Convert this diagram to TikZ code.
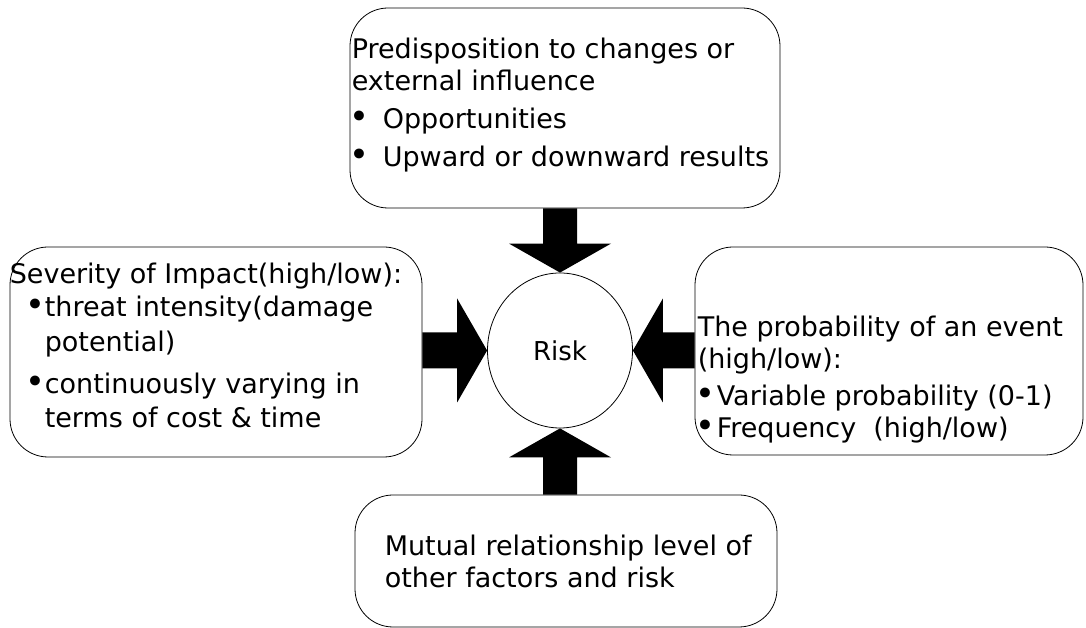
\documentclass[tikz,border=0pt]{standalone}
\usepackage{fontspec}
\setmainfont{DejaVu Sans}
\usetikzlibrary{shapes.geometric, positioning, calc}
\definecolor{mydark}{RGB}{0,0,0}
\tikzset{
  factor/.style={rectangle, draw=mydark, fill=white, rounded corners=38pt,
    line width=0.8pt, inner sep=0pt},
  factortext/.style={align=left, inner sep=0pt, text=mydark,
    font=\fontsize{27}{32}\selectfont},
  riskcirc/.style={ellipse, draw=mydark, fill=white, line width=0.8pt,
    minimum width=145pt, minimum height=155pt, inner sep=0pt,
    font=\fontsize{26}{32}\selectfont},
  bigarrow/.style={fill=mydark, draw=none}
}
% bullet: #1 shift before the dot, #2 room from there to the item text
\newcommand{\bul}[2]{\hspace*{#1}\makebox[#2][l]{\scalebox{1.25}{•}}}

\begin{document}
\begin{tikzpicture}[x=1pt, y=1pt]
  \useasboundingbox (0,0) rectangle (1086,628);

  % Factor boxes round the risk
  \node[factor, minimum width=430pt, minimum height=200pt] (pred) at (565,520) {};
  \node[factor, minimum width=412pt, minimum height=210pt] (sev) at (216,276) {};
  \node[factor, minimum width=388pt, minimum height=208pt] (prob) at (889,277) {};
  \node[factor, minimum width=422pt, minimum height=132pt] (mutual) at (566,67) {};

  % Risk in the middle
  \node[riskcirc] (risk) at (560,277.5) {Risk};

  % Box texts
  \node[factortext, below right=30pt and 2pt of pred.north west] (predtxt)
    {Predisposition to changes or\\ external influence\\[6pt]
     \bul{-2pt}{33pt}Opportunities\\[6pt]
     \bul{-2pt}{33pt}Upward or downward results};
  \node[factortext, below right=16pt and 0pt of sev.north west] (sevtxt)
    {Severity of Impact(high/low):\\[1pt]
     \bul{16pt}{19pt}threat intensity(damage\\[3pt]
     \hspace*{35pt}potential)\\[10pt]
     \bul{16pt}{19pt}continuously varying in\\[2pt]
     \hspace*{35pt}terms of cost \& time};
  \node[factortext, below right=69pt and 3pt of prob.north west] (probtxt)
    {The probability of an event\\ (high/low):\\[5pt]
     \bul{-2pt}{21pt}Variable probability (0-1)\\
     \bul{-2pt}{21pt}Frequency~~(high/low)};
  \node[factortext, below right=40pt and 30pt of mutual.north west] (mutualtxt)
    {Mutual relationship level of\\ other factors and risk};

  % Top arrow
  \fill[bigarrow] ($(risk.north |- pred.south)+(-17,0)$) -- ($(risk.north)+(-17,29)$)
    -- ($(risk.north)+(-51,29)$) -- (risk.north) -- ($(risk.north)+(51,29)$)
    -- ($(risk.north)+(17,29)$) -- ($(risk.north |- pred.south)+(17,0)$) -- cycle;
  % Bottom arrow
  \fill[bigarrow] ($(risk.south |- mutual.north)+(-17,0)$) -- ($(risk.south)+(-17,-29)$)
    -- ($(risk.south)+(-51,-29)$) -- (risk.south) -- ($(risk.south)+(51,-29)$)
    -- ($(risk.south)+(17,-29)$) -- ($(risk.south |- mutual.north)+(17,0)$) -- cycle;
  % Left arrow
  \fill[bigarrow] ($(sev.east |- risk.west)+(0,18)$) -- ($(risk.west)+(-30,18)$)
    -- ($(risk.west)+(-30,52)$) -- (risk.west) -- ($(risk.west)+(-30,-52)$)
    -- ($(risk.west)+(-30,-18)$) -- ($(sev.east |- risk.west)+(0,-18)$) -- cycle;
  % Right arrow
  \fill[bigarrow] ($(prob.west |- risk.east)+(0,18)$) -- ($(risk.east)+(30,18)$)
    -- ($(risk.east)+(30,52)$) -- (risk.east) -- ($(risk.east)+(30,-52)$)
    -- ($(risk.east)+(30,-18)$) -- ($(prob.west |- risk.east)+(0,-18)$) -- cycle;
\end{tikzpicture}
\end{document}
